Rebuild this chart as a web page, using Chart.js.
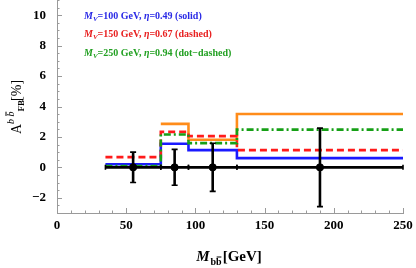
<!DOCTYPE html>
<html>
<head>
<meta charset="utf-8">
<script src="https://cdn.jsdelivr.net/npm/chart.js@4.4.1/dist/chart.umd.min.js"></script>
<style>
html, body { margin: 0; padding: 0; background: #fff; }
#wrap { width: 416px; height: 268px; position: relative; }
</style>
</head>
<body>
<div id="wrap"><canvas id="myChart"></canvas></div>
<script>
// bin edges of the M_bb histogram (GeV)
const binEdges = [35, 75, 95, 130, 250];

// model predictions per bin, A_FB in %
const blueVals = [0.2, 1.55, 1.13, 0.61];     // M_V=100 GeV, solid
const redVals = [0.67, 2.33, 2.05, 1.13];     // M_V=150 GeV, dashed
const greenVals = [0.08, 2.16, 1.59, 2.48];   // M_V=250 GeV, dot-dashed
const orangeVals = [null, 2.86, 1.81, 3.51];

// measured points
const dataX = [55, 85, 112.5, 190];
const dataY = [0, 0, 0, 0];
const dataErr = [1.0, 1.18, 1.58, 2.58];

const xTicks = [0, 50, 100, 150, 200, 250];
const yTicks = [-2, 0, 2, 4, 6, 8, 10];

const legendLines = [
    { mv: "100", eta: "0.49", style: "solid", color: "#2a2ae6" },
    { mv: "150", eta: "0.67", style: "dashed", color: "#e82020" },
    { mv: "250", eta: "0.94", style: "dot\u2212dashed", color: "#22a022" }
];

const SERIF = '"Liberation Serif", "DejaVu Serif", serif';

function steps(vals) {
    // one point per bin edge, last edge repeats the last bin value
    return binEdges.map((x, i) => ({ x: x, y: vals[Math.min(i, vals.length - 1)] }));
}

function drawRich(ctx, x, y, parts, align) {
    let w = 0;
    parts.forEach(p => { ctx.font = p.font; w += ctx.measureText(p.t).width + (p.gap || 0); });
    let cx = align === "center" ? x - w / 2 : x;
    parts.forEach(p => {
        ctx.font = p.font;
        const bw = ctx.measureText(p.t).width;
        ctx.fillText(p.t, cx, y + (p.dy || 0));
        if (p.bar) {
            ctx.save();
            ctx.lineWidth = 1;
            ctx.strokeStyle = ctx.fillStyle;
            ctx.beginPath();
            ctx.moveTo(cx + bw * 0.1, y + (p.dy || 0) - p.bar);
            ctx.lineTo(cx + bw * 0.95, y + (p.dy || 0) - p.bar);
            ctx.stroke();
            ctx.restore();
        }
        cx += bw + (p.gap || 0);
    });
}

const decorPlugin = {
    id: "decor",
    beforeDatasetDraw(chart, args) {
        // error bars go under the black markers, above the model lines
        if (args.index !== 0) return;
        const ctx = chart.ctx, xs = chart.scales.x, ys = chart.scales.y;
        ctx.save();
        ctx.strokeStyle = "#000";
        ctx.lineCap = "butt";
        for (let i = 0; i < dataX.length; i++) {
            const px = xs.getPixelForValue(dataX[i]);
            const py = ys.getPixelForValue(dataY[i]);
            const x0 = xs.getPixelForValue(binEdges[i]);
            const x1 = xs.getPixelForValue(binEdges[i + 1]);
            const yTop = ys.getPixelForValue(dataY[i] + dataErr[i]);
            const yBot = ys.getPixelForValue(dataY[i] - dataErr[i]);
            ctx.lineWidth = 2.6;
            ctx.beginPath();
            ctx.moveTo(x0, py); ctx.lineTo(x1, py);
            ctx.moveTo(px, yTop); ctx.lineTo(px, yBot);
            ctx.stroke();
            ctx.lineWidth = 1.6;
            ctx.beginPath();
            ctx.moveTo(x0, py - 2.5); ctx.lineTo(x0, py + 2.5);
            ctx.moveTo(x1, py - 2.5); ctx.lineTo(x1, py + 2.5);
            ctx.moveTo(px - 3, yTop); ctx.lineTo(px + 3, yTop);
            ctx.moveTo(px - 3, yBot); ctx.lineTo(px + 3, yBot);
            ctx.stroke();
        }
        ctx.restore();
    },
    afterDraw(chart) {
        const ctx = chart.ctx, xs = chart.scales.x, ys = chart.scales.y;
        const area = chart.chartArea;
        ctx.save();
        // inward ticks
        ctx.strokeStyle = "#9a9a9a";
        ctx.lineWidth = 1;
        ctx.beginPath();
        for (let v = 0; v <= 250; v += 10) {
            const px = Math.round(xs.getPixelForValue(v)) + 0.5;
            const len = v % 50 === 0 ? 5 : 2.5;
            ctx.moveTo(px, area.bottom); ctx.lineTo(px, area.bottom - len);
        }
        for (let v = -3; v <= 11; v += 0.5) {
            const py = Math.round(ys.getPixelForValue(v)) + 0.5;
            const len = v % 2 === 0 ? 5 : 2.5;
            ctx.moveTo(area.left, py); ctx.lineTo(area.left + len, py);
        }
        ctx.stroke();

        // legend text
        ctx.textBaseline = "alphabetic";
        legendLines.forEach((l, i) => {
            ctx.fillStyle = l.color;
            drawRich(ctx, 84, 18.5 + i * 18.5, [
                { t: "M", font: "italic bold 10px " + SERIF },
                { t: "V", font: "italic bold 7px " + SERIF, dy: 2 },
                { t: "=" + l.mv + " GeV, ", font: "bold 10px " + SERIF },
                { t: "\u03b7", font: "italic bold 10px " + SERIF },
                { t: "=" + l.eta + " (" + l.style + ")", font: "bold 10px " + SERIF }
            ], "left");
        });

        // x axis title
        ctx.fillStyle = "#000";
        drawRich(ctx, 229, 261, [
            { t: "M", font: "italic bold 15px " + SERIF, gap: 1 },
            { t: "b", font: "bold 10px " + SERIF, dy: 4 },
            { t: "b", font: "bold 10px " + SERIF, dy: 4, gap: 1, bar: 8 },
            { t: "[GeV]", font: "bold 15px " + SERIF }
        ], "center");

        // y axis title (rotated)
        ctx.translate(21, 107);
        ctx.rotate(-Math.PI / 2);
        drawRich(ctx, 0, 0, [
            { t: "A", font: "14px " + SERIF },
            { t: "b ", font: "italic 10px " + SERIF, dy: -7 },
            { t: "b", font: "italic 10px " + SERIF, dy: -7, bar: 8 },
            { t: "FB", font: "bold 9px " + SERIF, dy: 3, gap: -9 },
            { t: "", font: "bold 9px " + SERIF, gap: 8 },
            { t: "[%]", font: "14px " + SERIF }
        ], "center");
        ctx.restore();
    }
};

const lineStyle = (color, dash) => ({
    type: "line",
    borderColor: color,
    backgroundColor: color,
    borderWidth: 2.6,
    borderDash: dash,
    pointRadius: 0,
    stepped: true,
    fill: false,
    spanGaps: false
});

const config = {
    type: "line",
    data: {
        datasets: [
            {
                type: "scatter",
                data: dataX.map((x, i) => ({ x: x, y: dataY[i] })),
                backgroundColor: "#000",
                borderColor: "#000",
                pointRadius: 3.6,
                showLine: false
            },
            Object.assign({ data: steps(greenVals) }, lineStyle("#16a016", [7, 3, 2, 3])),
            Object.assign({ data: steps(redVals) }, lineStyle("#ff1a1a", [7, 4])),
            Object.assign({ data: steps(blueVals) }, lineStyle("#1a1aff", [])),
            Object.assign({ data: steps(orangeVals) }, lineStyle("#ff8c1a", []))
        ]
    },
    options: {
        responsive: true,
        maintainAspectRatio: false,
        animation: false,
        layout: { autoPadding: false, padding: { left: 0, right: 13, top: 0, bottom: 0 } },
        plugins: { legend: { display: false }, tooltip: { enabled: false } },
        scales: {
            x: {
                type: "linear",
                min: 0,
                max: 250,
                afterBuildTicks: s => { s.ticks = xTicks.map(v => ({ value: v })); },
                afterFit: s => { s.height = 55; s.paddingLeft = 0; s.paddingRight = 0; },
                grid: { display: false, drawTicks: false },
                border: { display: true, color: "#9a9a9a", width: 1 },
                ticks: {
                    padding: 5,
                    color: "#000",
                    font: { family: SERIF, size: 13, weight: "bold" },
                    maxRotation: 0
                }
            },
            y: {
                type: "linear",
                min: -3,
                max: 11,
                afterBuildTicks: s => { s.ticks = yTicks.map(v => ({ value: v })); },
                afterFit: s => { s.width = 57; s.paddingTop = 0; s.paddingBottom = 0; },
                grid: { display: false, drawTicks: false },
                border: { display: true, color: "#9a9a9a", width: 1 },
                ticks: {
                    padding: 11,
                    color: "#000",
                    font: { family: SERIF, size: 13, weight: "bold" },
                    callback: v => (v < 0 ? "\u2212" + Math.abs(v) : String(v))
                }
            }
        }
    },
    plugins: [decorPlugin]
};

new Chart(document.getElementById("myChart"), config);
</script>
</body>
</html>
